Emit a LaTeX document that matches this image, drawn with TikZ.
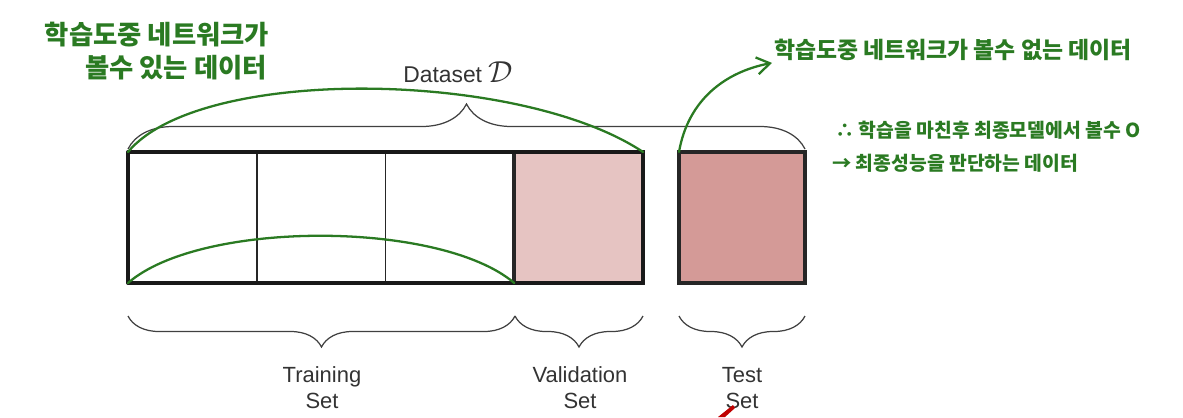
\documentclass[tikz,border=0pt]{standalone}
\usepackage{fontspec}
\setmainfont{Liberation Sans}
\newfontfamily\krfont{Noto Sans CJK KR}
\usetikzlibrary{arrows.meta,positioning,decorations.pathreplacing,calc}
\definecolor{penGreen}{RGB}{42,122,34}
\definecolor{valPink}{RGB}{230,196,194}
\definecolor{testPink}{RGB}{212,154,151}
\tikzset{
  >=Stealth,
  every node/.append style={inner sep=1pt},
}

\begin{document}
\begin{tikzpicture}[
  x=0.2mm, y=-0.2mm,
  % --- Boxes ---
  cell/.style={draw=black!85, line width=1.1pt, minimum width=25.75mm,
    minimum height=26.2mm, inner sep=0pt, outer sep=0pt},
  frame/.style={draw=black!90, line width=2.3pt, line join=round},
  % --- Braces and labels ---
  brace/.style={decorate, decoration={brace, amplitude=#1},
    draw=black!75, line width=0.7pt},
  setlabel/.style={align=center, text=black!80,
    font=\fontsize{12.5}{14.7}\selectfont},
  % --- Green pen notes ---
  pen/.style={draw=penGreen, line width=1.3pt, line cap=round},
  hand/.style={text=penGreen, font=\krfont\bfseries\fontsize{15}{17}\selectfont},
  handsmall/.style={text=penGreen, font=\krfont\bfseries\fontsize{11}{13}\selectfont},
]

\useasboundingbox (0,0) rectangle (1183,417);

% --- Dataset row ---
\node[cell] (trainA) at (192.4,217.5) {};
\node[cell, right=0pt of trainA] (trainB) {};
\node[cell, right=0pt of trainB] (trainC) {};
\node[cell, right=0pt of trainC, fill=valPink, line width=2.3pt] (val) {};
\draw[frame] (trainA.north west) rectangle (val.south east);

\node[cell, minimum width=25.2mm, fill=testPink, line width=2.3pt] (test) at (742,217.5) {};

% --- Braces ---
\draw[brace=9mm] (128,149) -- (805,149);
\node[font=\fontsize{13}{14}\selectfont, text=black!80] (dataset) at (458,72)
  {Dataset \fontsize{19}{19}\selectfont$\mathcal{D}$};

\draw[brace=6.2mm] (515,316) -- (128,316);
\draw[brace=6.2mm] (643,316) -- (515,316);
\draw[brace=6.2mm] (805,316) -- (679,316);

\node[setlabel] (trainlbl) at (322,388) {Training\\Set};
\node[setlabel] (vallbl) at (580,388) {Validation\\Set};
\node[setlabel] (testlbl) at (742,388) {Test\\Set};

% --- Handwritten notes ---
\node[hand] (seenA) at (157,35) {학습도중 네트워크가};
\node[hand] (seenB) at (176,68) {볼수 있는 데이터};
\node[handsmall, font=\krfont\bfseries\fontsize{13}{15}\selectfont, anchor=west]
  (unseen) at (772,50) {학습도중 네트워크가 볼수 없는 데이터};
\node[handsmall, anchor=west] (noteA) at (833,130) {∴ 학습을 마친후 최종모델에서 볼수 O};
\node[handsmall, anchor=west] (noteB) at (830,163) {→ 최종성능을 판단하는 데이터};

\draw[pen] (trainA.north west) .. controls (200,65) and (520,70) .. (val.north east);
\draw[pen] (trainA.south west) .. controls (200,220) and (440,220) .. (trainC.south east);
\draw[pen, -{Straight Barb[length=2.6mm, width=3.4mm]}]
  (test.north west) .. controls (688,100) and (725,72) .. (unseen.south west);

% red mark at the bottom edge
\fill[red!75!black] (718,417) -- (733,405) -- (735,408) -- (725,417) -- cycle;

\end{tikzpicture}
\end{document}
